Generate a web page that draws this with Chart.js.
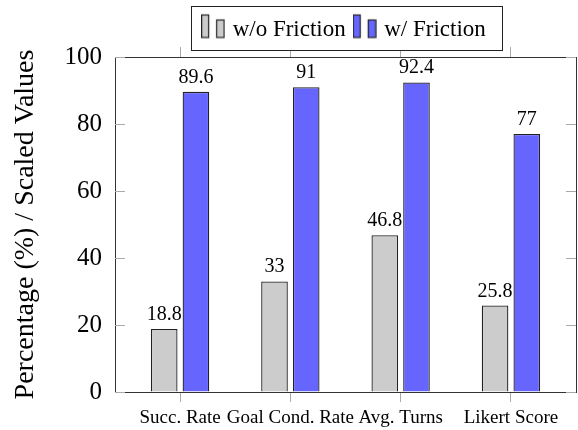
<!DOCTYPE html>
<html>
<head>
<meta charset="utf-8">
<script src="https://cdn.jsdelivr.net/npm/chart.js@4.4.1/dist/chart.umd.min.js"></script>
<style>
  body { margin: 0; background: #fff; }
  #wrap { width: 578px; height: 430px; }
</style>
</head>
<body>
<div id="wrap"><canvas id="chart" width="578" height="430"></canvas></div>
<script>
const categories = ['Succ. Rate', 'Goal Cond. Rate', 'Avg. Turns', 'Likert Score']
const woFriction = [18.8, 33, 46.8, 25.8]
const wFriction = [89.6, 91, 92.4, 77]
const seriesNames = ['w/o Friction', 'w/ Friction']

const serif = "'Liberation Serif', 'Times New Roman', serif"
const grayFill = '#cccccc'
const blueFill = '#6666ff'
const edge = '#222222'

// little two-bar picture used as legend marker (like pgfplots ybar legend)
function barIcon(fill) {
  const c = document.createElement('canvas')
  c.width = 24
  c.height = 40
  const g = c.getContext('2d')
  g.fillStyle = fill
  g.strokeStyle = edge
  g.lineWidth = 1.2
  g.fillRect(0.5, 5.5, 7, 22.5)
  g.strokeRect(0.5, 5.5, 7, 22.5)
  g.fillRect(15.5, 10.5, 7.5, 17.5)
  g.strokeRect(15.5, 10.5, 7.5, 17.5)
  return c
}
const icons = [barIcon(grayFill), barIcon(blueFill)]

const catTicks = scale => { scale.ticks = categories.map((_, i) => ({ value: i })) }

const valueLabels = {
  id: 'valueLabels',
  afterDatasetsDraw(chart) {
    const ctx = chart.ctx
    ctx.save()
    ctx.font = '20px ' + serif
    ctx.fillStyle = '#000'
    ctx.textAlign = 'center'
    ctx.textBaseline = 'alphabetic'
    chart.data.datasets.forEach((ds, di) => {
      chart.getDatasetMeta(di).data.forEach((bar, i) => {
        ctx.fillText(String(ds.data[i].y), bar.x, bar.y - 9)
      })
    })
    ctx.restore()
  }
}

const frame = {
  id: 'frame',
  afterDraw(chart) {
    const ctx = chart.ctx
    const a = chart.chartArea
    const y = chart.scales.y
    ctx.save()
    // inward y ticks on both sides
    ctx.strokeStyle = '#aaaaaa'
    ctx.lineWidth = 1
    y.ticks.forEach(t => {
      const py = Math.round(y.getPixelForValue(t.value)) + 0.5
      ctx.beginPath()
      ctx.moveTo(a.left, py); ctx.lineTo(a.left + 10, py)
      ctx.moveTo(a.right - 10, py); ctx.lineTo(a.right, py)
      ctx.stroke()
    })
    // right border
    ctx.strokeStyle = '#333333'
    ctx.beginPath()
    ctx.moveTo(a.right + 0.5, a.top)
    ctx.lineTo(a.right + 0.5, a.bottom)
    ctx.stroke()

    // legend box
    const lg = chart.legend
    const hb = lg.legendHitBoxes
    const last = hb[hb.length - 1]
    const l = Math.round(hb[0].left - 14) + 0.5
    const r = Math.round(last.left + last.width + 16) + 0.5
    const t = Math.round(lg.top) - 0.5
    const b = Math.round(lg.bottom) - 0.5
    ctx.fillStyle = '#fff'
    ctx.fillRect(l, t, r - l, b - t)
    ctx.strokeStyle = '#222'
    ctx.strokeRect(l, t, r - l, b - t)
    ctx.restore()
    lg.draw()
  }
}

const chart = new Chart(document.getElementById('chart'), {
  type: 'bar',
  data: {
    datasets: [
      {
        label: seriesNames[0],
        data: woFriction.map((v, i) => ({ x: i, y: v })),
        backgroundColor: grayFill,
        borderColor: edge,
        borderWidth: 1.3
      },
      {
        label: seriesNames[1],
        data: wFriction.map((v, i) => ({ x: i, y: v })),
        backgroundColor: blueFill,
        borderColor: edge,
        borderWidth: 1.3
      }
    ]
  },
  options: {
    responsive: false,
    animation: false,
    categoryPercentage: 0.575,
    barPercentage: 0.84,
    layout: { padding: { left: 9, right: 2, top: 7, bottom: 0 } },
    scales: {
      x: {
        type: 'linear',
        position: 'bottom',
        min: -0.59,
        max: 3.59,
        offset: false,
        afterBuildTicks: catTicks,
        afterFit: s => { s.height = 38 },
        grid: { display: true, offset: false, drawOnChartArea: false, drawTicks: true, tickLength: 10, color: '#aaaaaa' },
        border: { display: true, color: '#333333', width: 1 },
        ticks: {
          autoSkip: false,
          maxRotation: 0,
          padding: 5,
          color: '#000',
          font: { family: serif, size: 19 },
          callback: v => categories[v]
        }
      },
      xTop: {
        type: 'linear',
        position: 'top',
        display: true,
        min: -0.59,
        max: 3.59,
        offset: false,
        afterBuildTicks: catTicks,
        afterFit: s => { s.height = 6 },
        grid: { display: true, offset: false, drawOnChartArea: false, drawTicks: true, tickLength: 10, color: '#aaaaaa' },
        border: { display: true, color: '#333333', width: 1 },
        ticks: { display: false }
      },
      y: {
        min: 0,
        max: 100,
        afterFit: s => { s.width = 106 },
        grid: { display: true, drawOnChartArea: false, drawTicks: false },
        border: { display: true, color: '#333333', width: 1 },
        ticks: {
          stepSize: 20,
          padding: 13,
          color: '#000',
          font: { family: serif, size: 25 }
        },
        title: {
          display: true,
          text: 'Percentage (%) / Scaled Values',
          color: '#000',
          padding: { top: 0, bottom: 0 },
          font: { family: serif, size: 28 }
        }
      }
    },
    plugins: {
      tooltip: { enabled: false },
      legend: {
        position: 'top',
        fullSize: false,
        labels: {
          usePointStyle: true,
          pointStyleWidth: 16,
          padding: 11,
          color: '#000',
          font: { family: serif, size: 23 },
          generateLabels: c => c.data.datasets.map((ds, i) => ({
            text: ds.label,
            pointStyle: icons[i],
            fillStyle: ds.backgroundColor,
            strokeStyle: ds.borderColor,
            lineWidth: 0,
            hidden: false,
            datasetIndex: i,
            fontColor: '#000'
          }))
        }
      }
    }
  },
  plugins: [valueLabels, frame]
})
</script>
</body>
</html>
